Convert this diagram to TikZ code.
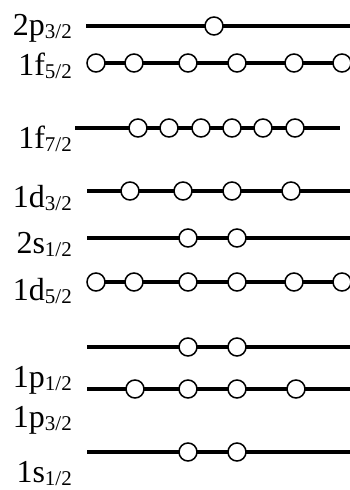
\documentclass[tikz,border=0pt]{standalone}
\usepackage{fontspec}
\setmainfont{Liberation Serif}
\newcommand{\orbit}[2]{#1\raisebox{-3.5pt}{\fontsize{21}{21}\selectfont #2}}
\begin{document}
\begin{tikzpicture}[x=1pt,y=-1pt,
	level/.style={line width=4pt},
	nucleon/.style={draw,line width=1.5pt,fill=white},
	orblabel/.style={anchor=base east,inner sep=0pt,font=\fontsize{32}{32}\selectfont}]

	\useasboundingbox (0,0) rectangle (350,490);

	% labels
	\node[orblabel] (p32b) at (72,35) {\orbit{2p}{3/2}};
	\node[orblabel] (f52) at (72,75) {\orbit{1f}{5/2}};
	\node[orblabel] (f72) at (72,148) {\orbit{1f}{7/2}};
	\node[orblabel] (d32) at (72,207) {\orbit{1d}{3/2}};
	\node[orblabel] (s12b) at (72,253) {\orbit{2s}{1/2}};
	\node[orblabel] (d52) at (72,300) {\orbit{1d}{5/2}};
	\node[orblabel] (p12) at (72,387) {\orbit{1p}{1/2}};
	\node[orblabel] (p32) at (72,427) {\orbit{1p}{3/2}};
	\node[orblabel] (s12) at (72,482) {\orbit{1s}{1/2}};

	% levels
	\draw[level] (86,26) -- (350,26);
	\draw[level] (96,63) -- (350,63);
	\draw[level] (75,128) -- (340,128);
	\draw[level] (87,191) -- (350,191);
	\draw[level] (87,238) -- (350,238);
	\draw[level] (96,282) -- (350,282);
	\draw[level] (87,347) -- (350,347);
	\draw[level] (87,389) -- (350,389);
	\draw[level] (87,452) -- (350,452);

	% nucleons
	\draw[nucleon] (214,26) circle (9);
	\draw[nucleon] (96,63) circle (9);
	\draw[nucleon] (134,63) circle (9);
	\draw[nucleon] (188,63) circle (9);
	\draw[nucleon] (237,63) circle (9);
	\draw[nucleon] (294,63) circle (9);
	\draw[nucleon] (342,63) circle (9);
	\draw[nucleon] (138,128) circle (9);
	\draw[nucleon] (169,128) circle (9);
	\draw[nucleon] (201,128) circle (9);
	\draw[nucleon] (232,128) circle (9);
	\draw[nucleon] (263,128) circle (9);
	\draw[nucleon] (295,128) circle (9);
	\draw[nucleon] (130,191) circle (9);
	\draw[nucleon] (183,191) circle (9);
	\draw[nucleon] (232,191) circle (9);
	\draw[nucleon] (291,191) circle (9);
	\draw[nucleon] (188,238) circle (9);
	\draw[nucleon] (237,238) circle (9);
	\draw[nucleon] (96,282) circle (9);
	\draw[nucleon] (134,282) circle (9);
	\draw[nucleon] (188,282) circle (9);
	\draw[nucleon] (237,282) circle (9);
	\draw[nucleon] (294,282) circle (9);
	\draw[nucleon] (342,282) circle (9);
	\draw[nucleon] (188,347) circle (9);
	\draw[nucleon] (237,347) circle (9);
	\draw[nucleon] (135,389) circle (9);
	\draw[nucleon] (188,389) circle (9);
	\draw[nucleon] (237,389) circle (9);
	\draw[nucleon] (296,389) circle (9);
	\draw[nucleon] (188,452) circle (9);
	\draw[nucleon] (237,452) circle (9);

\end{tikzpicture}
\end{document}
